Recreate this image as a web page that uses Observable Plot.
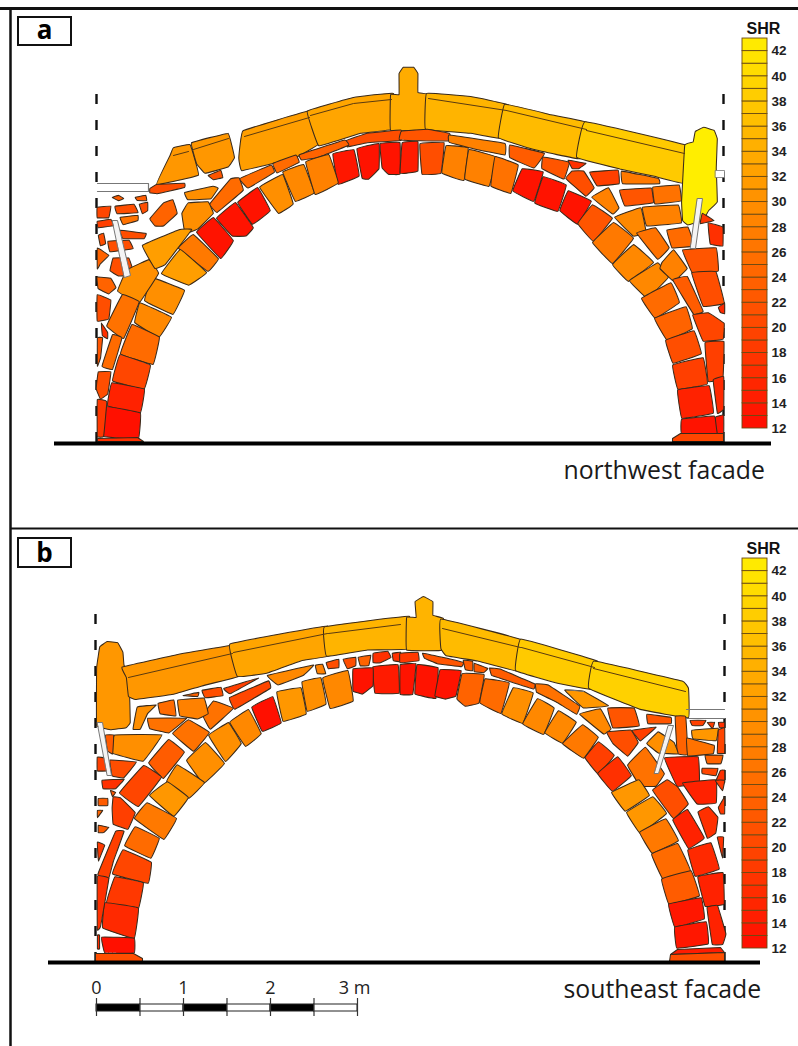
<!DOCTYPE html>
<html>
<head>
<meta charset="utf-8">
<script src="https://cdn.jsdelivr.net/npm/d3@7"></script>
<script src="https://cdn.jsdelivr.net/npm/@observablehq/plot@0.6"></script>
<style>html,body{margin:0;padding:0;background:#fff}svg{display:block}</style>
</head>
<body>
<div id="chart"></div>
<script>
// Each stone: [SHR rebound value, outline in drawing units]
const stonesA = [
[31,[173,148,189,145,197,174,157,183,170,155]],
[31,[192,143,227,134,233,157,227,166,205,172,197,163]],
[32,[244,131,308,112,317,143,293,157,243,169,240,157]],
[33,[309,111,353,98,391,94,391,128,360,132,320,144]],
[34,[391,94,399,94,399,74,403,68,413,68,417,74,417,92,427,94,427,127,391,128]],
[35,[428,94,470,97,506,105,500,137,470,132,427,128]],
[36,[506,105,550,115,587,123,578,157,533,148,500,137]],
[38,[587,123,685,146,683,182,653,175,620,168,579,157]],
[43,[685,146,693,143,695,133,703,129,713,132,716,140,715,168,716,200,708,208,702,218,688,222,683,218,682,200]],
[21,[347,140,367,133,399,130,399,140,367,142,348,146]],
[22,[402,131,427,129,448,133,448,140,420,140,400,139]],
[24,[300,154,343,140,347,145,317,157,302,159]],
[25,[273,163,295,155,298,162,277,172]],
[25,[240,178,270,165,273,172,248,187]],
[25,[210,203,230,179,238,178,242,190,217,211]],
[30,[185,192,212,186,217,188,210,198,188,199]],
[22,[208,175,220,170,222,177,213,179]],
[21,[150,188,157,184,183,183,183,187,157,193,150,192]],
[30,[182,213,188,203,207,202,212,213,197,228,185,232]],
[24,[150,218,163,203,172,200,176,213,163,225,155,225]],
[20,[97,207,110,206,108,217,97,217]],
[21,[115,206,133,204,137,212,117,213]],
[21,[139,204,147,202,147,210,142,213]],
[23,[112,197,118,195,123,198,118,200]],
[23,[135,197,145,195,146,200,137,200]],
[26,[120,217,137,215,137,220,123,224]],
[19,[97,221,110,219,113,225,98,227]],
[21,[120,230,145,233,143,238,123,238]],
[21,[98,235,103,233,105,243,100,245]],
[21,[108,241,128,240,132,248,110,251]],
[24,[97,248,108,255,100,263,97,268]],
[21,[113,258,128,258,133,274,118,275,110,270]],
[13.5,[333,154,353,150,358,175,338,183]],
[13,[357,149,378,144,378,168,368,178,362,177]],
[13,[380,144,399,143,399,173,388,173,382,167]],
[14,[402,143,417,142,417,170,407,172,400,172]],
[21,[420,144,443,143,440,172,422,173]],
[28,[446,146,467,148,463,179,442,172]],
[28,[469,150,495,157,488,185,465,178]],
[26,[495,157,517,165,510,192,491,185]],
[13,[522,169,542,172,533,200,513,190]],
[13,[543,177,565,185,557,210,535,202]],
[13,[568,191,590,201,577,223,560,210]],
[22,[592,205,611,218,593,240,578,223]],
[27,[613,223,632,238,612,262,593,242]],
[29,[633,245,652,262,628,280,613,264]],
[29,[630,280,657,263,667,277,647,297]],
[25,[642,298,670,283,678,302,655,317]],
[24,[655,318,685,307,691,328,667,339]],
[21,[666,340,693,331,700,353,673,362]],
[19,[673,365,702,358,706,383,678,388]],
[15,[678,390,708,386,712,412,682,417]],
[13,[682,419,713,416,717,433,682,433]],
[30,[260,187,282,175,292,203,278,212]],
[29,[283,172,303,165,313,192,295,200]],
[28,[306,162,328,155,337,182,315,193]],
[13,[238,202,257,188,269,210,252,223]],
[13,[217,218,235,203,252,227,245,235,232,235]],
[13,[197,232,213,218,232,240,220,257]],
[27,[179,248,193,235,217,258,207,270]],
[32,[180,250,205,272,188,284,162,273]],
[30,[152,278,183,290,172,313,145,300]],
[29,[140,303,170,317,158,336,135,322]],
[25,[132,325,158,337,152,363,121,353]],
[20,[120,355,149,365,143,388,113,380]],
[15,[112,383,143,389,139,412,108,405]],
[12.5,[107,407,139,413,137,438,103,435]],
[30,[118,290,125,273,130,268,148,260,157,273,138,302]],
[32,[143,245,178,230,190,230,165,263,155,267]],
[26,[122,295,138,302,123,337,107,325]],
[25,[112,335,121,338,112,368,102,365]],
[21,[98,372,110,372,107,393,100,398,96,388]],
[18,[97,400,106,402,103,435,97,435]],
[24,[97,277,110,278,115,287,108,293,98,288]],
[21,[97,295,110,300,108,318,97,320]],
[17,[101,323,107,332,107,338,102,335]],
[22,[97,338,102,338,100,357,97,365]],
[28,[450,135,503,143,503,154,473,148,450,142]],
[23,[510,145,543,153,533,167,510,157]],
[22,[543,157,568,162,563,178,542,168]],
[17,[568,160,585,163,578,168,572,168]],
[19,[590,172,617,170,618,183,597,185]],
[27,[622,171,657,178,658,183,623,183]],
[21,[572,171,583,171,593,187,585,195,566,178]],
[22,[620,190,650,188,652,202,625,205]],
[26,[653,187,678,185,680,200,655,203]],
[28,[592,197,608,188,618,207,612,213]],
[28,[643,207,677,205,680,222,647,225]],
[29,[615,217,640,208,645,232,633,235]],
[26,[637,233,655,228,668,247,657,258]],
[25,[667,230,687,227,693,245,672,247]],
[18,[702,213,713,220,700,223]],
[17,[708,223,722,227,722,245,710,243]],
[22,[683,250,715,248,717,270,693,273]],
[28,[662,262,673,250,686,268,673,280,660,268]],
[21,[692,273,715,272,723,302,703,305]],
[23,[673,280,687,277,702,310,693,313]],
[20,[693,315,708,313,723,323,722,338,703,340]],
[19,[705,343,723,342,722,377,708,380]],
[16,[713,380,723,377,723,408,717,412]],
[13,[715,417,723,415,723,432,717,433]],
[16,[718,307,724,303,724,313,720,312]]
];

const stonesB = [
[31,[100,648,107,643,117,644,122,653,123,665,128,682,129,720,125,725,110,727,97,723,97,668]],
[31,[124,667,177,655,232,646,238,675,200,685,173,693,137,698,130,695,128,677]],
[33,[232,644,325,627,328,655,300,660,267,672,239,675]],
[35,[326,627,407,617,407,648,367,649,328,655]],
[35,[407,617,416,617,415,602,423,597,432,602,432,615,442,618,442,648,407,648]],
[36,[442,620,520,640,517,670,477,660,447,655,442,648]],
[38,[522,640,595,661,590,688,557,682,517,670]],
[39,[596,662,680,681,686,688,686,716,640,708,591,688]],
[17,[373,653,387,651,390,657,380,662,373,662]],
[17,[392,653,400,652,400,661,393,660]],
[18,[400,653,417,652,418,660,400,662]],
[22,[423,653,442,657,462,662,460,666,437,663,425,658]],
[23,[463,660,472,661,472,670,465,669]],
[23,[474,663,487,668,483,672,474,671]],
[23,[490,668,500,669,533,683,532,688,507,680,492,675]],
[26,[536,684,548,685,578,705,575,713,557,702,537,692]],
[31,[565,690,583,691,607,705,583,707]],
[29,[580,714,600,709,610,728,603,733]],
[22,[608,708,633,708,638,725,613,727]],
[22,[647,714,670,717,670,723,648,723]],
[24,[675,717,685,717,687,753,677,752]],
[19,[690,720,705,720,702,725,692,725]],
[19,[707,722,714,722,712,728]],
[17,[718,722,724,722,724,727,719,727]],
[31,[692,730,717,728,715,740,693,738]],
[26,[687,738,713,745,712,753,688,755]],
[20,[718,730,724,728,724,752,717,752]],
[24,[705,755,722,755,720,763,707,763]],
[20,[702,768,717,768,715,775,702,773]],
[17,[720,770,724,770,724,782,715,782]],
[21,[607,732,630,730,637,742,627,755,613,743]],
[19,[632,730,655,727,640,740]],
[30,[647,743,658,732,673,742,677,753,658,752]],
[26,[628,765,645,748,663,773,655,785,640,785]],
[15,[665,758,697,757,698,782,677,785]],
[19,[585,757,598,742,613,755,598,773]],
[17,[598,773,617,757,630,775,612,790]],
[13,[400,665,415,664,412,693,400,693]],
[13,[417,665,437,668,435,697,415,693]],
[13,[440,670,460,671,455,695,445,698,435,695]],
[24,[462,674,483,675,478,702,465,705,457,698]],
[25,[485,679,508,683,500,712,480,702]],
[30,[513,688,532,693,522,722,502,713]],
[29,[537,699,553,708,543,733,523,723]],
[29,[558,711,575,722,562,742,545,732]],
[27,[582,725,597,737,583,757,563,743]],
[31,[612,792,638,780,648,795,625,810]],
[31,[627,812,652,797,665,813,640,832]],
[27,[640,832,665,819,677,840,652,852]],
[25,[652,854,677,844,689,870,663,878]],
[23,[662,879,690,871,698,895,669,903]],
[13.5,[669,904,700,898,703,918,675,926]],
[13.5,[675,927,705,922,707,943,677,947]],
[21,[653,790,667,780,677,787,687,803,673,817]],
[15,[673,820,687,810,703,837,688,847]],
[16,[688,850,710,843,718,868,695,875]],
[15,[698,877,722,873,723,903,705,905]],
[15,[707,908,717,906,725,933,722,943,712,943]],
[17,[698,812,708,807,717,817,715,832,707,837]],
[15,[683,783,715,780,715,802,697,803]],
[17,[717,837,723,837,722,857]],
[18,[718,807,724,797,724,813,720,813]],
[18,[715,780,724,780,722,790]],
[14,[373,667,397,665,398,692,375,692]],
[13,[353,669,372,668,372,685,362,693,353,690]],
[29,[323,678,347,671,352,700,330,707]],
[30,[302,682,320,678,325,703,307,710]],
[31,[277,692,300,688,305,713,283,720]],
[12.5,[252,707,272,697,280,722,262,730]],
[29,[230,722,248,710,260,733,245,745]],
[30,[209,735,228,723,240,743,225,760]],
[30,[187,760,205,743,223,763,203,782]],
[30,[177,765,203,782,188,797,167,781]],
[31,[150,795,167,782,187,797,173,815]],
[27,[135,818,147,803,175,818,163,838]],
[25,[125,845,135,827,158,838,150,857]],
[20,[113,873,123,850,150,862,147,882]],
[18,[107,902,115,877,142,883,137,908]],
[16,[103,927,105,903,137,908,133,937]],
[12.5,[102,937,133,938,133,952,105,952]],
[23,[149,762,168,740,183,752,163,777]],
[26,[173,733,188,720,208,732,193,750]],
[26,[203,715,213,701,232,708,210,728]],
[20,[230,697,267,681,269,688,235,708]],
[19,[224,688,257,678,230,693]],
[21,[202,690,220,687,222,695,205,697]],
[24,[183,695,198,692,197,696]],
[29,[268,675,312,665,302,675,278,684]],
[28,[315,665,322,664,325,673,317,673]],
[21,[326,662,338,659,338,667,328,668]],
[21,[343,659,355,657,355,665,347,668]],
[24,[358,657,370,655,368,665,360,665]],
[28,[178,700,203,698,207,713,197,718,180,715]],
[25,[158,703,173,700,175,715,160,713]],
[30,[137,707,155,705,147,713,140,728,133,728]],
[26,[148,718,185,718,168,732,150,728]],
[30,[115,735,160,735,142,760,112,752]],
[23,[105,735,113,735,112,753,107,750]],
[21,[110,760,135,762,123,777,112,775]],
[19,[97,757,105,758,107,770,97,770]],
[20,[120,792,143,766,160,777,138,805]],
[17,[102,780,123,779,115,788,103,788]],
[19,[113,797,120,798,134,812,127,828,113,823,112,808]],
[23,[98,798,107,798,107,805,98,805]],
[24,[97,810,102,810,97,817]],
[23,[98,825,108,827,103,832,98,832]],
[22,[110,790,115,792,112,796]],
[19,[115,832,123,832,113,860,108,878,98,873]],
[18,[97,842,104,845,98,860]],
[17,[97,877,108,879,100,925,97,928]],
[16,[97,935,99,935,99,948,97,948]]
];

const plinths = [
[17,[97,438,137,437,143,441,97,441]],
[20,[672,438,680,433,723,433,723,441,672,441]],
[14,[677,949,720,947,724,952,670,954]],
[21,[670,954,724,952,724,961,669,961]],
[21,[95,953,133,953,142,958,142,961,95,961]]
];

const ironRods = [
[112,220,117,220,130,275,124,277],
[697,198,702,198,695,248,690,248],
[97,722,102,722,111,775,107,775],
[668,725,673,725,658,773,654,773]
];
const notches = [[715,170,724,170,724,177,715,177]];

const copingJoints = [
[173,155,188,151],[193,149,228,138],[244,136,309,117],[310,115,353,103,391,99],
[428,98,506,110],[506,110,586,129],[586,130,684,153],
[128,677,232,653],[233,652,327,633],[328,633,400,624],[442,628,520,647],[521,647,594,667],[593,668,685,691]
];
const wallLines = [
[97,183,148,183,148,191],[97,191,148,191],
[686,709,724,709],[686,718,724,718],[565,689,583,691]
];
const dashedEdges = [[96,94,443],[723,94,443],[95,614,962],[724,614,962]];
const groundLines = [[54,771,443],[48,760,962]];

const shrLevels = d3.range(12, 43);
const shrTicks = d3.range(12, 43, 2);
const legends = [{bottom:428, title:"SHR", titleY:28},{bottom:948, title:"SHR", titleY:548}];
const panelTags = [{tag:"a",y0:17,y1:45,ty:30},{tag:"b",y0:538,y1:567,ty:553}];
const facades = [{name:"northwest facade",y:471},{name:"southeast facade",y:990}];
const scaleMetres = [0,0.5,1,1.5,2,2.5,3];
const scaleLabels = [{m:0,t:"0"},{m:1,t:"1"},{m:2,t:"2"},{m:3.0,t:"3 m"}];

// helpers turning outlines into rows for the line mark
const grow = 1.05; // mortar-joint tightening of hand-read outlines
const toPoints = (rows) => rows.flatMap(([shr, o], id) => {
  const idx = d3.range(0, o.length, 2);
  const cx = d3.mean(idx, i => o[i]), cy = d3.mean(idx, i => o[i+1]);
  return idx.map(i => ({id, shr, x:cx+(o[i]-cx)*grow, y:cy+(o[i+1]-cy)*grow}));
});
const flatPoints = (rows) => rows.flatMap((o, id) =>
  d3.range(0, o.length, 2).map(i => ({id, x:o[i], y:o[i+1]})));
const plinthPoints = plinths.flatMap(([shr, o], id) =>
  d3.range(0, o.length, 2).map(i => ({id, shr, x:o[i], y:o[i+1]})));
const unitsPerMetre = 87, scaleX = m => 96 + m*unitsPerMetre;
const step = 12.58;
const legendRows = legends.flatMap(l => shrLevels.map(v => ({v, y1:l.bottom-(v-12)*step, y2:l.bottom-(v+1-12)*step})));
const legendTickRows = legends.flatMap(l => shrTicks.map(v => ({v, y:l.bottom-(v-12)*step})));
const stonePts = toPoints(stonesA.concat(stonesB));
const stoneStyle = {x:"x", y:"y", z:"id", stroke:"#3a2a1a", strokeWidth:1.05, strokeLinejoin:"round"};
const frameRules = [[8,0,798,3],[528,10,798,2]];

const chart = Plot.plot({
  width:798, height:1046, margin:0,
  style:{background:"#fff", overflow:"visible"},
  x:{domain:[0,798], range:[0,798], axis:null},
  y:{domain:[0,1046], range:[0,1046], axis:null},
  color:{type:"linear", domain:[12,43], range:["#ff0c00","#ffee00"]},
  marks:[
    // frame
    Plot.ruleY(frameRules,{y:d=>d[0],x1:d=>d[1],x2:d=>d[2],strokeWidth:d=>d[3],stroke:"#111"}),
    Plot.ruleX([10],{y1:()=>8,y2:()=>1046,strokeWidth:2.5,stroke:"#111"}),
    // panel tags
    Plot.rect(panelTags,{x1:()=>18,x2:()=>71,y1:"y0",y2:"y1",fill:"none",stroke:"#111",strokeWidth:2}),
    Plot.text(panelTags,{x:()=>44,y:"ty",text:"tag",fontFamily:"Open Sans",fontWeight:700,fontSize:26,fill:"#000",lineAnchor:"middle"}),
    // dashed limits
    Plot.ruleX(dashedEdges,{x:d=>d[0],y1:d=>d[1],y2:d=>d[2],stroke:"#111",strokeWidth:2.4,strokeDasharray:"10 16"}),
    // stones
    Plot.line(stonePts,{...stoneStyle,curve:"cardinal-closed",tension:0.82,fill:"shr"}),
    Plot.line(plinthPoints,{...stoneStyle,curve:"linear-closed",fill:"shr"}),
    Plot.line(flatPoints(copingJoints),{x:"x",y:"y",z:"id",stroke:"#5a3a10",strokeWidth:1}),
    Plot.line(flatPoints(wallLines),{x:"x",y:"y",z:"id",stroke:"#777",strokeWidth:1.2}),
    Plot.line(flatPoints(notches),{x:"x",y:"y",z:"id",curve:"linear-closed",fill:"#fff",stroke:"#777",strokeWidth:0.8}),
    Plot.line(flatPoints(ironRods),{x:"x",y:"y",z:"id",curve:"linear-closed",fill:"#f4f4f4",stroke:"#777",strokeWidth:1}),
    // ground
    Plot.ruleY(groundLines,{y:d=>d[2],x1:d=>d[0],x2:d=>d[1],stroke:"#000",strokeWidth:4}),
    // legends
    Plot.rect(legendRows,{x1:()=>742,x2:()=>767,y1:"y1",y2:"y2",fill:d=>d.v+0.5,stroke:"#6b4a12",strokeWidth:0.9}),
    Plot.text(legendTickRows,{x:()=>771,y:"y",text:d=>String(d.v),textAnchor:"start",lineAnchor:"middle",fontFamily:"Liberation Sans",fontWeight:700,fontSize:13.5,fill:"#222"}),
    Plot.text(legends,{x:()=>763,y:"titleY",text:"title",lineAnchor:"middle",fontFamily:"Liberation Sans",fontWeight:700,fontSize:16,fill:"#111"}),
    // facade names
    Plot.text(facades,{x:()=>563,y:"y",text:"name",textAnchor:"start",lineAnchor:"middle",fontFamily:"Open Sans",fontSize:24.8,fill:"#1a1a1a"}),
    // scale bar
    Plot.rectY(d3.pairs(scaleMetres),{x1:d=>scaleX(d[0]),x2:d=>scaleX(d[1]),y1:()=>1004,y2:()=>1011,fill:(d,i)=>i%2?"#fff":"#000",stroke:"#222",strokeWidth:1}),
    Plot.ruleX(scaleMetres,{x:scaleX,y1:()=>998,y2:()=>1016,stroke:"#333",strokeWidth:1.2}),
    Plot.text(scaleLabels,{x:d=>scaleX(d.m)+(d.t.length>1?-3:0),y:()=>988,text:"t",lineAnchor:"middle",fontFamily:"Open Sans",fontSize:18,fill:"#222"})
  ]
});
document.getElementById("chart").appendChild(chart);
</script>
</body>
</html>
